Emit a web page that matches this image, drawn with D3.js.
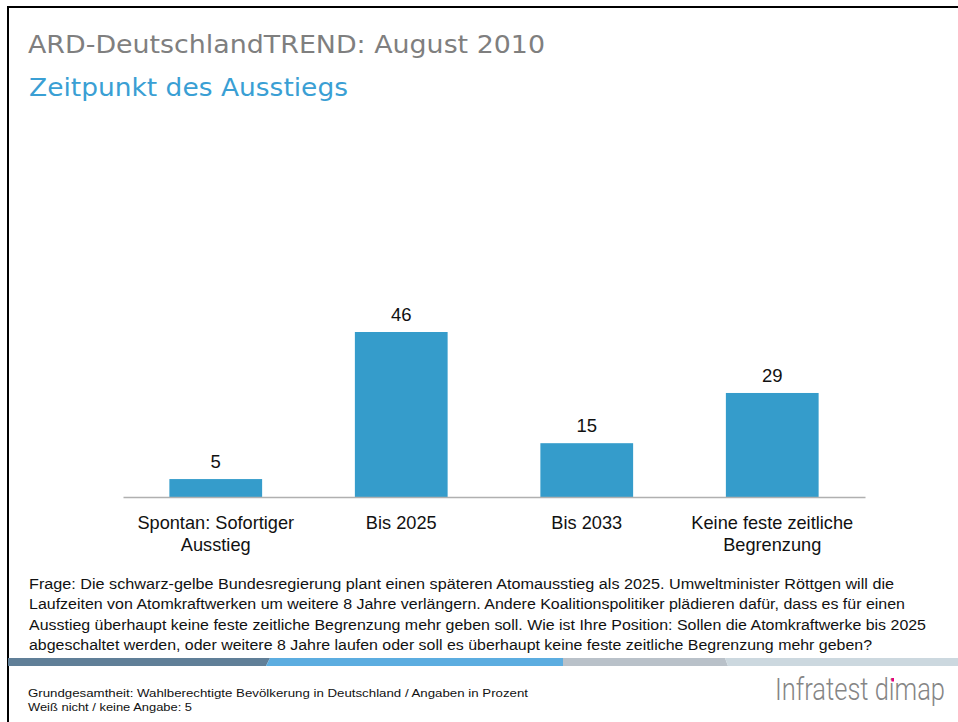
<!DOCTYPE html>
<html><head><meta charset="utf-8">
<script src="https://cdn.jsdelivr.net/npm/d3@7"></script>
<style>body{margin:0;background:#fff}svg{display:block}text{font-family:Arial,"Liberation Sans",sans-serif}</style>
</head><body>
<script>
const categories = [["Spontan: Sofortiger","Ausstieg"],["Bis 2025"],["Bis 2033"],["Keine feste zeitliche","Begrenzung"]];
const values = [5, 46, 15, 29];
const questionLines = [
 "Frage: Die schwarz-gelbe Bundesregierung plant einen späteren Atomausstieg als 2025. Umweltminister Röttgen will die",
 "Laufzeiten von Atomkraftwerken um weitere 8 Jahre verlängern. Andere Koalitionspolitiker plädieren dafür, dass es für einen",
 "Ausstieg überhaupt keine feste zeitliche Begrenzung mehr geben soll. Wie ist Ihre Position: Sollen die Atomkraftwerke bis 2025",
 "abgeschaltet werden, oder weitere 8 Jahre laufen oder soll es überhaupt keine feste zeitliche Begrenzung mehr geben?"
];
const lineWidths = [865, 876, 897, 843];
const footLines = ["Grundgesamtheit: Wahlberechtigte Bevölkerung in Deutschland / Angaben in Prozent","Weiß nicht / keine Angabe: 5"];

const W = 958, H = 722;
const svg = d3.select("body").append("svg").attr("width", W).attr("height", H);

// frame
svg.append("line").attr("x1",7).attr("x2",W).attr("y1",7).attr("y2",7).attr("stroke","#000").attr("stroke-width",2);
svg.append("line").attr("x1",8).attr("x2",8).attr("y1",6).attr("y2",H).attr("stroke","#000").attr("stroke-width",2);

svg.append("text").attr("x",28).attr("y",53).attr("font-size",25).attr("fill","#7f7f7f")
  .style("font-family","'DejaVu Sans',sans-serif")
  .attr("textLength",517).attr("lengthAdjust","spacingAndGlyphs").text("ARD-DeutschlandTREND: August 2010");
svg.append("text").attr("x",29).attr("y",96).attr("font-size",25).attr("fill","#3a9fd4")
  .style("font-family","'DejaVu Sans',sans-serif")
  .attr("textLength",319).attr("lengthAdjust","spacingAndGlyphs").text("Zeitpunkt des Ausstiegs");

const x = d3.scaleBand().domain(d3.range(values.length)).range([123, 865]).paddingInner(0.5).paddingOuter(0.25);
const y = d3.scaleLinear().domain([0, 46]).range([497, 332]);

const g = svg.append("g");
g.selectAll("rect.bar").data(values).join("rect").attr("class","bar")
 .attr("x",(d,i)=>x(i)).attr("width",x.bandwidth())
 .attr("y",d=>y(d)).attr("height",d=>y(0)-y(d)).attr("fill","#359ccb");

const axis = d3.axisBottom(x).tickSize(0).tickFormat(()=> "");
const ax = svg.append("g").attr("transform",`translate(0,${y(0)})`).call(axis);
ax.select(".domain").attr("stroke","#b0b0b0").attr("stroke-width",1.3);

g.selectAll("text.val").data(values).join("text").attr("class","val")
 .attr("x",(d,i)=>x(i)+x.bandwidth()/2).attr("y",d=>y(d)-11)
 .attr("text-anchor","middle").attr("font-size",18.5).attr("fill","#111").text(d=>d);

categories.forEach((lines,i)=>{
  lines.forEach((t,j)=>{
    svg.append("text").attr("x",x(i)+x.bandwidth()/2).attr("y",529+j*22)
      .attr("text-anchor","middle").attr("font-size",18.2).attr("fill","#111").text(t);
  });
});

questionLines.forEach((t,i)=>{
  svg.append("text").attr("x",29).attr("y",589+i*20.3).attr("font-size",14).attr("fill","#111")
   .attr("textLength",lineWidths[i]).attr("lengthAdjust","spacingAndGlyphs").text(t);
});

// bottom band
const band = [
  {pts:[[8,658],[270,658],[266,666],[8,666]], c:"#607f98"},
  {pts:[[270,658],[563,658],[563,666],[266,666]], c:"#5cade0"},
  {pts:[[563,658],[725,658],[728,666],[563,666]], c:"#b9c1c9"},
  {pts:[[725,658],[958,658],[958,666],[728,666]], c:"#ccd8df"}
];
svg.selectAll("path.band").data(band).join("path").attr("class","band")
  .attr("d",d=>d3.line()(d.pts)+"Z").attr("fill",d=>d.c);

svg.append("text").attr("x",28).attr("y",697).attr("font-size",11).attr("fill","#111")
  .attr("textLength",500).attr("lengthAdjust","spacingAndGlyphs").text(footLines[0]);
svg.append("text").attr("x",28).attr("y",711).attr("font-size",11).attr("fill","#111")
  .attr("textLength",164).attr("lengthAdjust","spacingAndGlyphs").text(footLines[1]);

svg.append("text").attr("x",775).attr("y",700).attr("font-size",31).attr("fill","#858585")
  .style("font-family","'Liberation Sans Narrow','Roboto',sans-serif").attr("font-weight",300)
  .attr("textLength",170).attr("lengthAdjust","spacingAndGlyphs").text("Infratest dimap");
svg.append("rect").attr("x",891.5).attr("y",678).attr("width",2.5).attr("height",3.5).attr("fill","#e6007e");
</script>
</body></html>
